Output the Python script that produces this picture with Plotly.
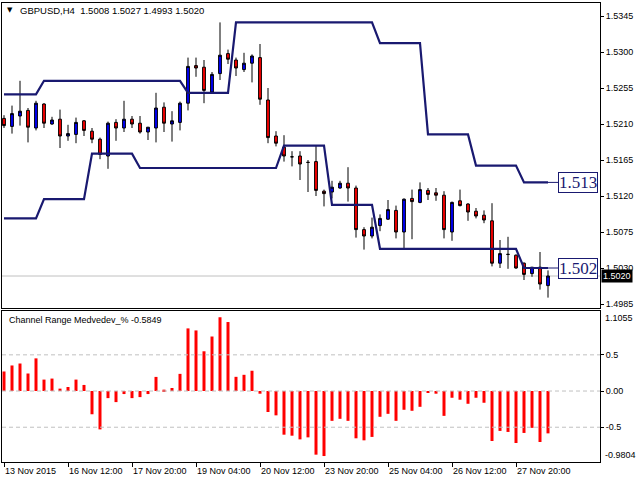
import plotly.graph_objects as go

symbol = "GBPUSD,H4"
indicator_name = "Channel Range Medvedev_%"

open_ = [1.5217, 1.5207, 1.5220, 1.5227, 1.5205, 1.5235, 1.5210, 1.5216, 1.5195, 1.5197,
         1.5214, 1.5201, 1.5191, 1.5170, 1.5212, 1.5205, 1.5216, 1.5211, 1.5200, 1.5205,
         1.5231, 1.5210, 1.5212, 1.5236, 1.5283, 1.5281, 1.5250, 1.5273, 1.5298, 1.5290,
         1.5278, 1.5286, 1.5293, 1.5240, 1.5195, 1.5181, 1.5169, 1.5170, 1.5162, 1.5163,
         1.5126, 1.5125, 1.5130, 1.5136, 1.5130, 1.5078, 1.5070, 1.5083, 1.5091, 1.5102,
         1.5075, 1.5117, 1.5112, 1.5127, 1.5124, 1.5121, 1.5075, 1.5114, 1.5110, 1.5101,
         1.5096, 1.5089, 1.5036, 1.5047, 1.5046, 1.5036, 1.5023, 1.5031, 1.5008]
high = [1.5221, 1.5233, 1.5264, 1.5230, 1.5239, 1.5236, 1.5219, 1.5228, 1.5209, 1.5218,
        1.5215, 1.5205, 1.5193, 1.5213, 1.5216, 1.5239, 1.5220, 1.5220, 1.5206, 1.5249,
        1.5237, 1.5226, 1.5238, 1.5293, 1.5293, 1.5290, 1.5275, 1.5337, 1.5303, 1.5293,
        1.5299, 1.5297, 1.5310, 1.5255, 1.5201, 1.5196, 1.5176, 1.5176, 1.5165, 1.5183,
        1.5128, 1.5139, 1.5139, 1.5156, 1.5133, 1.5081, 1.5093, 1.5097, 1.5115, 1.5108,
        1.5117, 1.5128, 1.5137, 1.5130, 1.5130, 1.5126, 1.5113, 1.5128, 1.5111, 1.5105,
        1.5102, 1.5111, 1.5065, 1.5069, 1.5047, 1.5037, 1.5031, 1.5050, 1.5027]
low = [1.5205, 1.5198, 1.5208, 1.5187, 1.5202, 1.5205, 1.5209, 1.5180, 1.5189, 1.5186,
       1.5195, 1.5186, 1.5166, 1.5154, 1.5189, 1.5200, 1.5205, 1.5198, 1.5190, 1.5187,
       1.5200, 1.5188, 1.5202, 1.5227, 1.5269, 1.5236, 1.5249, 1.5265, 1.5285, 1.5270,
       1.5275, 1.5262, 1.5234, 1.5186, 1.5182, 1.5163, 1.5157, 1.5140, 1.5125, 1.5120,
       1.5107, 1.5117, 1.5129, 1.5113, 1.5068, 1.5053, 1.5067, 1.5076, 1.5090, 1.5067,
       1.5055, 1.5066, 1.5111, 1.5115, 1.5114, 1.5067, 1.5064, 1.5107, 1.5089, 1.5092,
       1.5086, 1.5032, 1.5030, 1.5029, 1.5029, 1.5015, 1.5019, 1.5003, 1.4993]
close = [1.5208, 1.5223, 1.5226, 1.5206, 1.5236, 1.5211, 1.5215, 1.5195, 1.5198, 1.5212,
         1.5202, 1.5191, 1.5172, 1.5211, 1.5205, 1.5216, 1.5210, 1.5200, 1.5206, 1.5230,
         1.5211, 1.5214, 1.5236, 1.5282, 1.5280, 1.5252, 1.5272, 1.5296, 1.5291, 1.5280,
         1.5286, 1.5295, 1.5241, 1.5193, 1.5186, 1.5170, 1.5169, 1.5160, 1.5162, 1.5127,
         1.5123, 1.5131, 1.5136, 1.5130, 1.5078, 1.5070, 1.5081, 1.5092, 1.5103, 1.5075,
         1.5116, 1.5113, 1.5128, 1.5122, 1.5121, 1.5078, 1.5112, 1.5108, 1.5100, 1.5095,
         1.5090, 1.5036, 1.5048, 1.5047, 1.5030, 1.5022, 1.5031, 1.5010, 1.5020]

upper = [1.5247, 1.5247, 1.5247, 1.5247, 1.5247,
         1.5264, 1.5264, 1.5264, 1.5264, 1.5264, 1.5264, 1.5264, 1.5264, 1.5264,
         1.5264, 1.5264, 1.5264, 1.5264, 1.5264, 1.5264, 1.5264, 1.5264, 1.5264,
         1.5249, 1.5249, 1.5249, 1.5249, 1.5249, 1.5249,
         1.5337, 1.5337, 1.5337, 1.5337, 1.5337, 1.5337, 1.5337, 1.5337, 1.5337,
         1.5337, 1.5337, 1.5337, 1.5337, 1.5337, 1.5337, 1.5337, 1.5337, 1.5337,
         1.5311, 1.5311, 1.5311, 1.5311, 1.5311, 1.5311,
         1.5197, 1.5197, 1.5197, 1.5197, 1.5197, 1.5197,
         1.5158, 1.5158, 1.5158, 1.5158, 1.5158, 1.5158,
         1.5137, 1.5137, 1.5137, 1.5137]
lower = [1.5092, 1.5092, 1.5092, 1.5092, 1.5092,
         1.5116, 1.5116, 1.5116, 1.5116, 1.5116, 1.5116,
         1.5173, 1.5173, 1.5173, 1.5173, 1.5173, 1.5173,
         1.5155, 1.5155, 1.5155, 1.5155, 1.5155, 1.5155, 1.5155, 1.5155, 1.5155,
         1.5155, 1.5155, 1.5155, 1.5155, 1.5155, 1.5155, 1.5155, 1.5155, 1.5155,
         1.5183, 1.5183, 1.5183, 1.5183, 1.5183, 1.5183,
         1.5109, 1.5109, 1.5109, 1.5109, 1.5109, 1.5109,
         1.5054, 1.5054, 1.5054, 1.5054, 1.5054, 1.5054, 1.5054, 1.5054, 1.5054,
         1.5054, 1.5054, 1.5054, 1.5054, 1.5054, 1.5054, 1.5054, 1.5054, 1.5054,
         1.5030, 1.5030, 1.5030, 1.5030]
channel_labels = ["1.513", "1.502"]

indicator = [0.27, 0.353, 0.38, 0.242, 0.451, 0.158, 0.172, 0.033, 0.056, 0.158, 0.084,
             -0.321, -0.53, -0.098, -0.153, -0.042, -0.098, -0.084, -0.042, 0.195, 0.019, 0.042, 0.237,
             0.865, 0.837, 0.549, 0.753, 1.019, 0.953, 0.196, 0.224, 0.28,
             -0.037, -0.29, -0.336, -0.603, -0.617, -0.668, -0.64, -0.879, -0.898,
             -0.412, -0.384, -0.412, -0.653, -0.681, -0.634, -0.356, -0.315, -0.412, -0.259, -0.273, -0.218,
             -0.023, -0.037, -0.343, -0.093, -0.12, -0.176, -0.093, -0.162, -0.69, -0.551, -0.565,
             -0.718, -0.579, -0.509, -0.704, -0.5849]
indicator_range = [-0.9804, 1.1055]
indicator_levels = [0.5, 0.0, -0.5]
indicator_ticks = [0.5, 0.0, -0.5]
indicator_ticktext = ["0.5", "0.00", "-0.5"]

price_ticks = [1.5345, 1.5300, 1.5255, 1.5210, 1.5165, 1.5120, 1.5075, 1.5030, 1.4985]
time_tick_idx = [0, 8, 16, 24, 32, 40, 48, 56, 64]
time_tick_labels = ["13 Nov 2015", "16 Nov 12:00", "17 Nov 20:00", "19 Nov 04:00", "20 Nov 12:00",
                    "23 Nov 20:00", "25 Nov 04:00", "26 Nov 12:00", "27 Nov 20:00"]

idx = list(range(len(close)))
NAVY = "#191970"
FONT = "Liberation Sans, Arial, sans-serif"

fig = go.Figure()
fig.add_trace(go.Candlestick(
    x=idx, open=open_, high=high, low=low, close=close,
    increasing=dict(fillcolor="#0000FF", line=dict(color="black", width=1)),
    decreasing=dict(fillcolor="#FF0000", line=dict(color="black", width=1)),
    whiskerwidth=0, xaxis="x", yaxis="y", hoverinfo="skip"))

box_x = idx[-1] + 1.25
for ch in (upper, lower):
    fig.add_trace(go.Scatter(x=idx, y=ch, mode="lines", line=dict(color=NAVY, width=2.2),
                             xaxis="x", yaxis="y", hoverinfo="skip"))
    fig.add_trace(go.Scatter(x=[idx[-1], box_x], y=[ch[-1], ch[-1]], mode="lines",
                             line=dict(color=NAVY, width=1), xaxis="x", yaxis="y", hoverinfo="skip"))

fig.add_trace(go.Bar(x=idx, y=indicator, width=0.375, marker=dict(color="#FF0000", line=dict(width=0)),
                     xaxis="x2", yaxis="y2", hoverinfo="skip"))

shapes = [dict(type="line", xref="x domain", x0=0, x1=1, yref="y", y0=close[-1], y1=close[-1],
               line=dict(color="#C0C0C0", width=1), layer="below")]
for lv in indicator_levels:
    shapes.append(dict(type="line", xref="x2 domain", x0=0, x1=1, yref="y2", y0=lv, y1=lv,
                       line=dict(color="#C0C0C0", width=1, dash="4px,3px"), layer="above"))

annotations = []
for ch, lab in zip((upper, lower), channel_labels):
    annotations.append(dict(x=box_x, y=ch[-1], xref="x", yref="y", xanchor="left", yanchor="middle",
                            text=lab, showarrow=False,
                            font=dict(family="Liberation Serif, Times New Roman, serif", size=17, color=NAVY),
                            bordercolor=NAVY, borderwidth=1, borderpad=0, bgcolor="white"))
annotations.append(dict(x=1, y=close[-1], xref="paper", yref="y", xanchor="left", yanchor="middle",
                        xshift=1, text=f"{close[-1]:.4f}", showarrow=False,
                        font=dict(family=FONT, size=9, color="white"), bgcolor="black", borderpad=1))
title = f"{symbol}\u00a0\u00a0{open_[-1]:.4f} {high[-1]:.4f} {low[-1]:.4f} {close[-1]:.4f}"
annotations.append(dict(x=0.0268, y=0.9847, xref="paper", yref="paper", xanchor="left", yanchor="middle",
                        text=title, showarrow=False, font=dict(family=FONT, size=9.5, color="black")))
annotations.append(dict(x=0.0045, y=0.9847, xref="paper", yref="paper", xanchor="left", yanchor="middle",
                        text="\u25bc", showarrow=False, font=dict(family="DejaVu Sans", size=7, color="black")))
annotations.append(dict(x=0.0084, y=0.3094, xref="paper", yref="paper", xanchor="left", yanchor="middle",
                        text=f"{indicator_name} {indicator[-1]:.4f}", showarrow=False,
                        font=dict(family=FONT, size=9, color="black")))
annotations.append(dict(x=1, y=1, xref="paper", yref="y2 domain", xanchor="left", yanchor="top", xshift=3,
                        text=f"{indicator_range[1]:.4f}", showarrow=False,
                        font=dict(family=FONT, size=9, color="black")))
annotations.append(dict(x=1, y=0, xref="paper", yref="y2 domain", xanchor="left", yanchor="bottom", xshift=3,
                        text=f"{indicator_range[0]:.4f}", showarrow=False,
                        font=dict(family=FONT, size=9, color="black")))

xr = [-0.25, 74.5]
axis_common = dict(showline=True, mirror=True, linecolor="black", linewidth=1, showgrid=False,
                   zeroline=False)
fig.update_layout(
    width=640, height=480, margin=dict(l=2, r=40, t=3, b=18, autoexpand=False),
    paper_bgcolor="white", plot_bgcolor="white", showlegend=False, boxgap=0.5,
    font=dict(family=FONT, size=9, color="black"),
    xaxis=dict(domain=[0, 1], anchor="y", range=xr, showticklabels=False, ticks="",
               rangeslider=dict(visible=False), **axis_common),
    yaxis=dict(domain=[0.3355, 1], anchor="x", side="right", range=[1.4980, 1.536125],
               tickvals=price_ticks, ticktext=[f"{v:.4f}" for v in price_ticks],
               ticks="outside", ticklen=3, tickcolor="black", tickfont=dict(size=9), **axis_common),
    xaxis2=dict(domain=[0, 1], anchor="y2", range=xr, tickvals=time_tick_idx, ticktext=time_tick_labels,
                ticks="outside", ticklen=4, tickcolor="black", ticklabelposition="outside right",
                tickfont=dict(size=9), **axis_common),
    yaxis2=dict(domain=[0, 0.329], anchor="x2", side="right", range=indicator_range,
                tickvals=indicator_ticks, ticktext=indicator_ticktext,
                ticks="outside", ticklen=3, tickcolor="black", tickfont=dict(size=9), **axis_common),
    shapes=shapes, annotations=annotations, hovermode=False,
)

fig.write_html("out.html", config={"displayModeBar": False},
               post_script="document.body.style.margin='0';document.body.style.padding='0';"
                           "document.body.style.overflow='hidden';")
